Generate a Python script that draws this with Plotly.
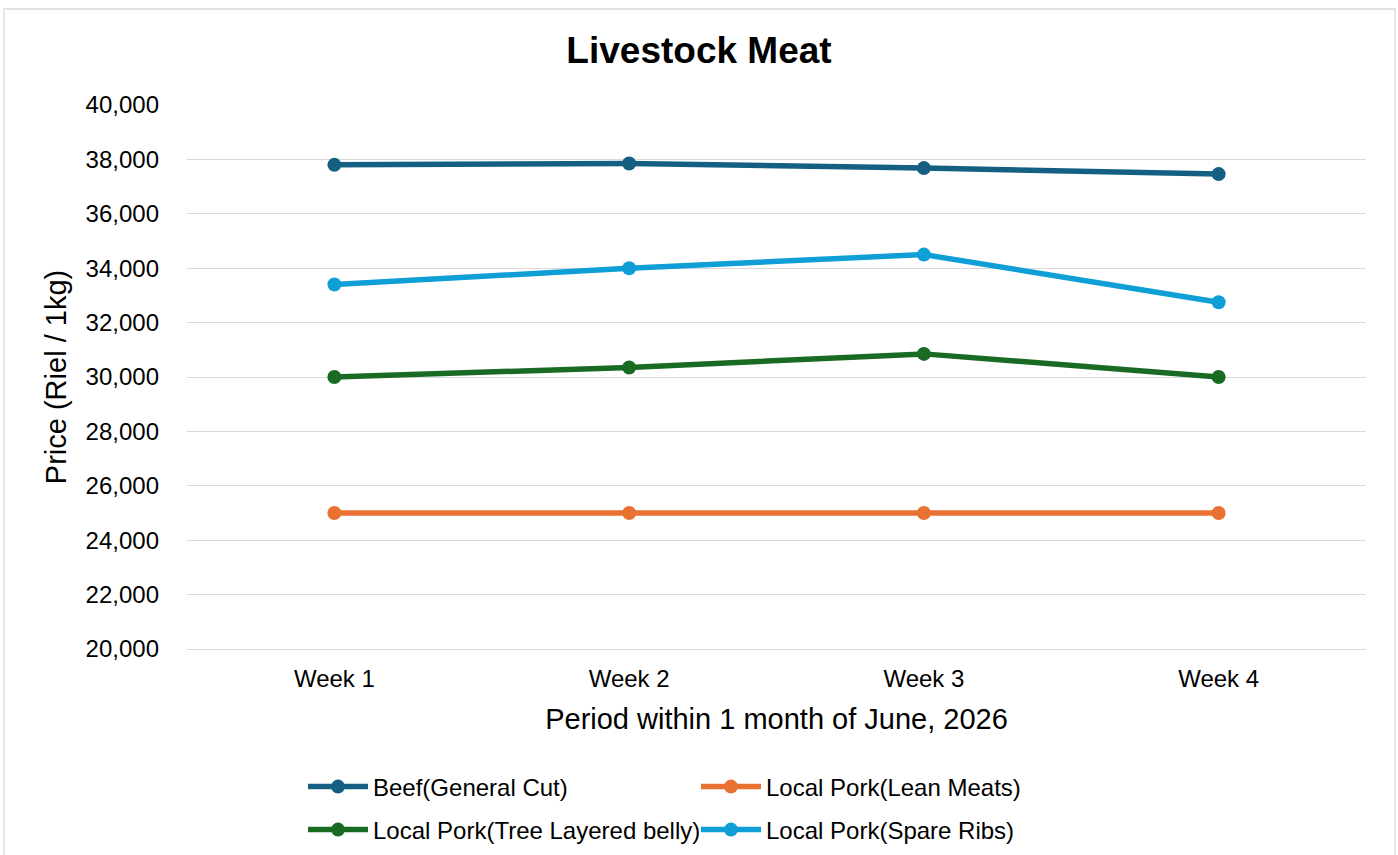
import plotly.graph_objects as go

weeks = ["Week 1", "Week 2", "Week 3", "Week 4"]
beef_general = [37800, 37850, 37680, 37460]
pork_lean = [25000, 25000, 25000, 25000]
pork_belly = [30000, 30350, 30850, 30000]
pork_ribs = [33400, 34000, 34500, 32750]

series = [
    ("Beef(General Cut)", beef_general, "#156082", "legend"),
    ("Local Pork(Lean Meats)", pork_lean, "#E97132", "legend"),
    ("Local Pork(Tree Layered belly)", pork_belly, "#196B24", "legend2"),
    ("Local Pork(Spare Ribs)", pork_ribs, "#0F9ED5", "legend2"),
]

FONT = "Arial, Liberation Sans, sans-serif"

fig = go.Figure()
for name, vals, color, lg in series:
    fig.add_trace(go.Scatter(
        x=weeks, y=vals, name=name, mode="lines+markers",
        line=dict(color=color, width=5.5),
        marker=dict(color=color, size=14),
        legend=lg,
    ))

L, R, T, B = 187, 32, 105, 206
W, H = 1398, 855
pw, ph = W - L - R, H - T - B

def px_x(p):
    return (p - L) / pw

def px_y(p):
    return (H - B - p) / ph

legend_common = dict(
    orientation="h", xanchor="left", yanchor="middle",
    font=dict(family=FONT, size=24, color="#000000"),
    bgcolor="rgba(0,0,0,0)", entrywidth=318, entrywidthmode="pixels",
    itemwidth=60, itemclick=False,
)

fig.update_layout(
    width=W, height=H,
    margin=dict(l=L, r=R, t=T, b=B, pad=0, autoexpand=False),
    paper_bgcolor="#FFFFFF", plot_bgcolor="#FFFFFF",
    font=dict(family=FONT, color="#000000"),
    title=dict(text="<b>Livestock Meat</b>", x=0.5, xanchor="center",
               y=1 - 50 / H, yanchor="middle", yref="container",
               font=dict(family=FONT, size=37, color="#000000")),
    showlegend=True,
    legend=dict(x=px_x(303), y=px_y(787), **legend_common),
    legend2=dict(x=px_x(303), y=px_y(830), **legend_common),
    shapes=[dict(type="rect", xref="paper", yref="paper",
                 x0=px_x(4), x1=px_x(1395), y0=px_y(880), y1=px_y(9),
                 line=dict(color="#D9D9D9", width=1.3), layer="below")],
)

fig.update_xaxes(
    type="category", range=[-0.5, 3.5], showgrid=False, zeroline=False,
    showline=True, linecolor="#D9D9D9", linewidth=1.3,
    ticks="", tickfont=dict(family=FONT, size=24, color="#000000"),
    ticklabelstandoff=8,
    title=dict(text="Period within 1 month of June, 2026",
               font=dict(family=FONT, size=29, color="#000000"), standoff=17),
    automargin=False,
)
fig.update_yaxes(
    range=[20000, 40000], dtick=2000, tick0=20000, tickformat=",",
    showgrid=True, gridcolor="#D9D9D9", gridwidth=1.3, zeroline=False,
    showline=False, ticks="", tickfont=dict(family=FONT, size=24, color="#000000"),
    ticklabelstandoff=27,
    title=dict(text="Price (Riel / 1kg)",
               font=dict(family=FONT, size=29, color="#000000"), standoff=10),
    automargin=False,
)

fig.write_html("out.html")
